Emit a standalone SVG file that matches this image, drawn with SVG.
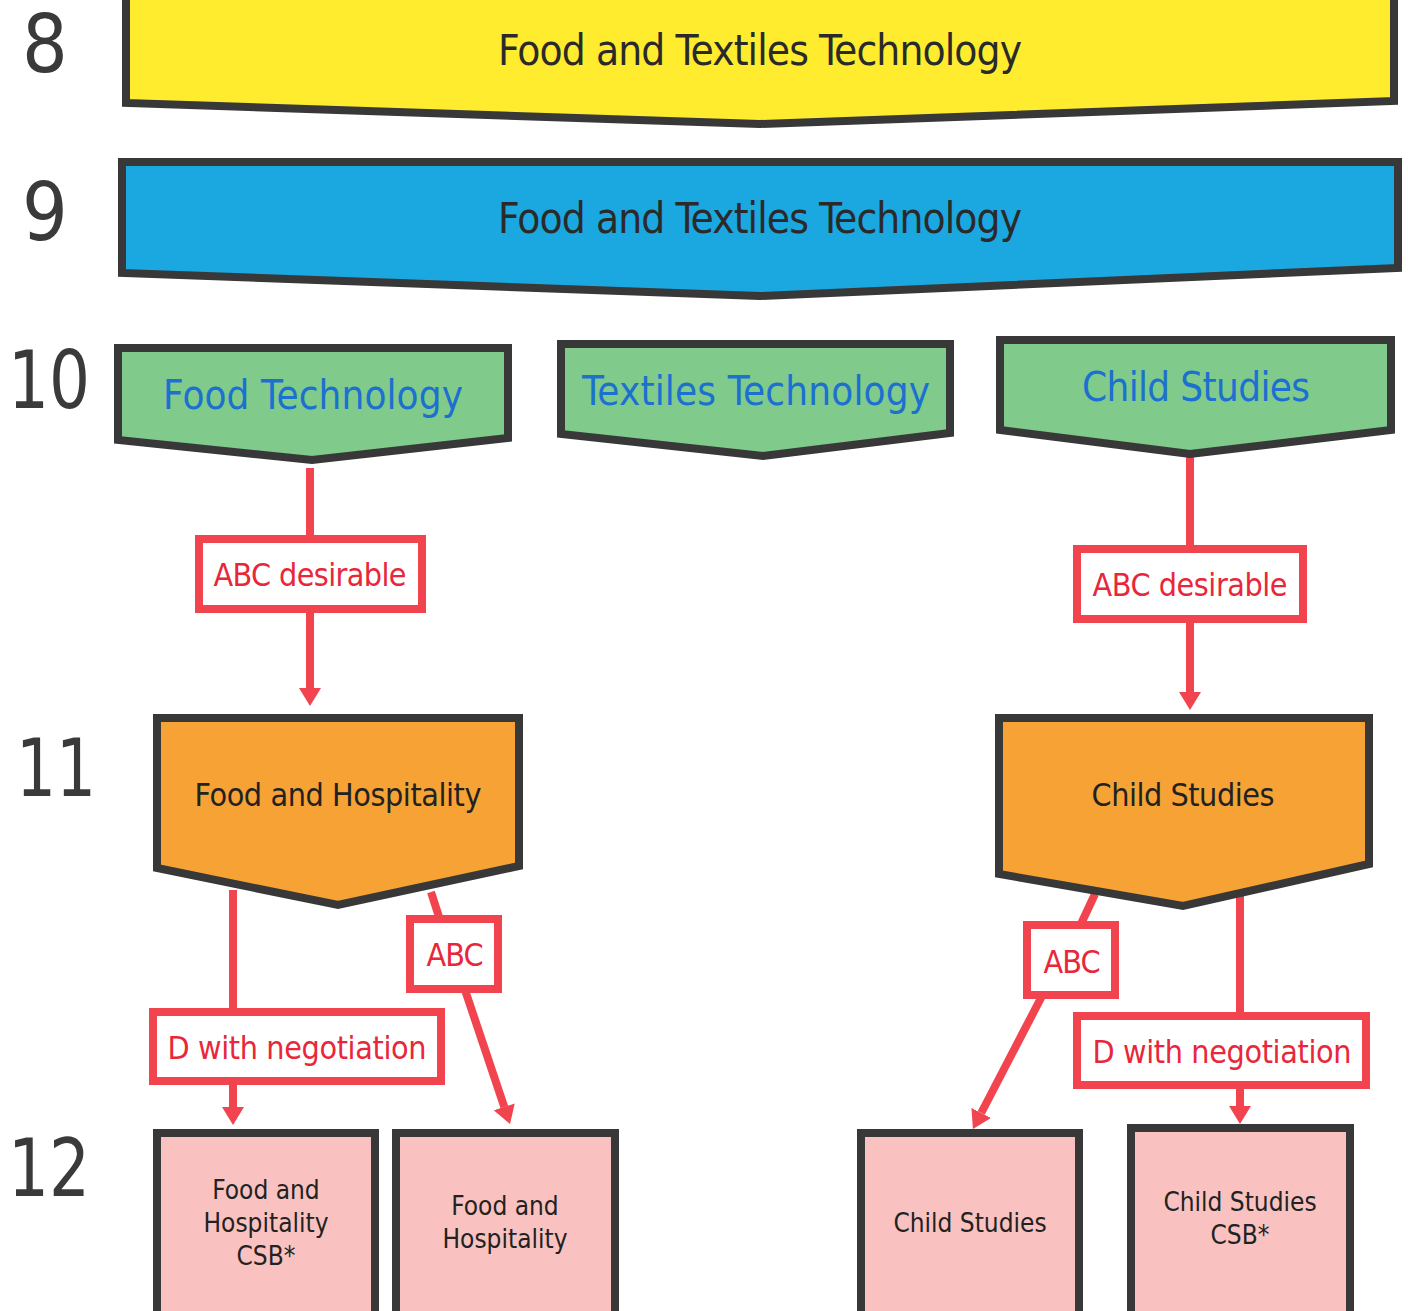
<svg xmlns="http://www.w3.org/2000/svg" width="1408" height="1311" viewBox="0 0 1408 1311">
<style>
text{font-family:"DejaVu Sans Condensed","DejaVu Sans","Liberation Sans",sans-serif;text-anchor:middle}
.num{font-size:80px;fill:#3a3a3a;text-anchor:start}
.shape{stroke:#383838;stroke-width:8;stroke-linejoin:miter}
.yellow{fill:#FFEC2E}
.blue{fill:#1BA7E0}
.green{fill:#80CA8C}
.orange{fill:#F7A235}
.pink{fill:#F9C2C0}
.lbl{fill:#fff;stroke:#F2444E;stroke-width:8}
.lt{fill:#E8283A;font-size:32px}
.ban{font-size:42px;fill:#2a2a2a}
.gt{font-size:40px;fill:#1C70CF}
.ot{font-size:32px;fill:#222}
.pt{font-size:26px;fill:#222}
.con{stroke:#F2444E;stroke-width:8;fill:none}
</style>
<defs>
<marker id="ah" viewBox="0 0 18 22" markerWidth="18" markerHeight="22" refX="0" refY="11" orient="auto" markerUnits="userSpaceOnUse">
<path d="M0,0 L18,11 L0,22 z" fill="#F2444E"/>
</marker>
</defs>

<g id="row-numbers">
<text class="num" x="22" y="72">8</text>
<text class="num" x="22" y="240">9</text>
<text class="num" x="8" y="408" textLength="82" lengthAdjust="spacingAndGlyphs">10</text>
<text class="num" x="16" y="796" textLength="80" lengthAdjust="spacingAndGlyphs">11</text>
<text class="num" x="8" y="1196" textLength="82" lengthAdjust="spacingAndGlyphs">12</text>
</g>

<g id="connectors">
<line class="con" x1="310" y1="468" x2="310" y2="540"/>
<line class="con" x1="310" y1="610" x2="310" y2="688" marker-end="url(#ah)"/>
<line class="con" x1="1190" y1="454" x2="1190" y2="550"/>
<line class="con" x1="1190" y1="620" x2="1190" y2="692" marker-end="url(#ah)"/>
<line class="con" x1="233" y1="890" x2="233" y2="1013"/>
<line class="con" x1="233" y1="1082" x2="233" y2="1107" marker-end="url(#ah)"/>
<line class="con" x1="431" y1="892" x2="440" y2="920"/>
<line class="con" x1="465" y1="990" x2="504.3" y2="1106.9" marker-end="url(#ah)"/>
<line class="con" x1="1240" y1="896" x2="1240" y2="1017"/>
<line class="con" x1="1240" y1="1086" x2="1240" y2="1106" marker-end="url(#ah)"/>
<line class="con" x1="1095" y1="894" x2="1080" y2="926"/>
<line class="con" x1="1042" y1="996" x2="981.2" y2="1113" marker-end="url(#ah)"/>
</g>

<g id="y8-banner">
<polygon class="shape yellow" points="126,-4 1394,-4 1394,101 760,124 126,103"/>
<text class="ban" x="760" y="65" textLength="524">Food and Textiles Technology</text>
</g>

<g id="y9-banner">
<polygon class="shape blue" points="122,162 1398,162 1398,268 760,296 122,273"/>
<text class="ban" x="760" y="233" textLength="524">Food and Textiles Technology</text>
</g>

<g id="food-technology">
<polygon class="shape green" points="118,348 508,348 508,438 312,460 118,440"/>
<text class="gt" x="313" y="409" textLength="300">Food Technology</text>
</g>

<g id="textiles-technology">
<polygon class="shape green" points="561,344 950,344 950,433 763,456 561,434"/>
<text class="gt" x="756" y="405" textLength="348">Textiles Technology</text>
</g>

<g id="child-studies-10">
<polygon class="shape green" points="1000,340 1391,340 1391,430 1190,454 1000,430"/>
<text class="gt" x="1196" y="401" textLength="228">Child Studies</text>
</g>

<g id="label-abc-desirable-left">
<rect class="lbl" x="199" y="539" width="223" height="70"/>
<text class="lt" x="310" y="586" textLength="193">ABC desirable</text>
</g>

<g id="label-abc-desirable-right">
<rect class="lbl" x="1077" y="549" width="226" height="70"/>
<text class="lt" x="1190" y="596" textLength="195">ABC desirable</text>
</g>

<g id="food-and-hospitality-11">
<polygon class="shape orange" points="157,718 519,718 519,866 338,905 157,868"/>
<text class="ot" x="338" y="806" textLength="287">Food and Hospitality</text>
</g>

<g id="child-studies-11">
<polygon class="shape orange" points="999,718 1369,718 1369,864 1183,906 999,874"/>
<text class="ot" x="1183" y="806" textLength="183">Child Studies</text>
</g>

<g id="label-abc-left">
<rect class="lbl" x="410" y="919" width="88" height="70"/>
<text class="lt" x="455" y="966" textLength="57">ABC</text>
</g>

<g id="label-d-left">
<rect class="lbl" x="153" y="1012" width="288" height="69"/>
<text class="lt" x="297" y="1059" textLength="259">D with negotiation</text>
</g>

<g id="label-abc-right">
<rect class="lbl" x="1027" y="925" width="88" height="70"/>
<text class="lt" x="1072" y="973" textLength="57">ABC</text>
</g>

<g id="label-d-right">
<rect class="lbl" x="1077" y="1016" width="289" height="69"/>
<text class="lt" x="1222" y="1063" textLength="259">D with negotiation</text>
</g>

<g id="fh-csb">
<rect class="shape pink" x="157" y="1133" width="218" height="190"/>
<text class="pt" x="266" y="1199">Food and</text>
<text class="pt" x="266" y="1232">Hospitality</text>
<text class="pt" x="266" y="1265">CSB*</text>
</g>

<g id="fh-12">
<rect class="shape pink" x="396" y="1133" width="219" height="190"/>
<text class="pt" x="505" y="1215">Food and</text>
<text class="pt" x="505" y="1248">Hospitality</text>
</g>

<g id="cs-12">
<rect class="shape pink" x="861" y="1133" width="218" height="190"/>
<text class="pt" x="970" y="1232">Child Studies</text>
</g>

<g id="cs-csb">
<rect class="shape pink" x="1131" y="1128" width="219" height="195"/>
<text class="pt" x="1240" y="1211">Child Studies</text>
<text class="pt" x="1240" y="1244">CSB*</text>
</g>
</svg>
